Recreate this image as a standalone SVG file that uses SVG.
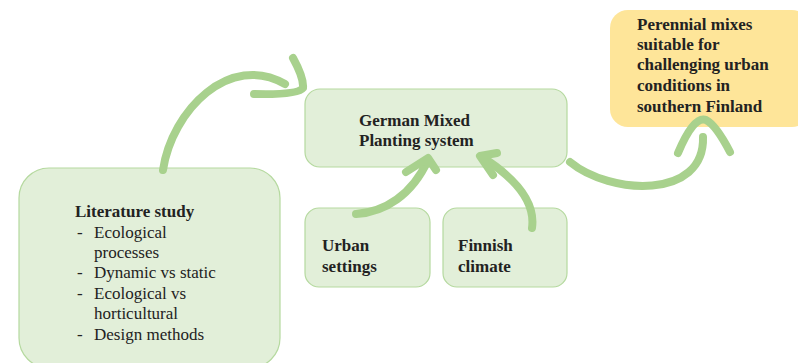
<svg xmlns="http://www.w3.org/2000/svg" width="798" height="363" viewBox="0 0 798 363">
<style>
.box{fill:#e2efd9;stroke:#b5d99f;stroke-width:1.2}
.goal{fill:#fee599;stroke:none}
.t{font-family:"Liberation Serif","Times New Roman",serif;font-size:17px;fill:#222}
.b{font-weight:bold}
.arr{fill:none;stroke:#a8d18d;stroke-width:8;stroke-linecap:round;stroke-linejoin:round}
</style>
<rect width="798" height="363" fill="#fff"/>
<g id="literature">
<rect class="box" x="19" y="168" width="261" height="200" rx="30"/>
<text class="t b" x="75" y="217">Literature study</text>
<text class="t"><tspan x="77" y="238">-</tspan><tspan x="94" y="238">Ecological</tspan><tspan x="94" y="258">processes</tspan><tspan x="77" y="278">-</tspan><tspan x="94" y="278">Dynamic vs static</tspan><tspan x="77" y="299">-</tspan><tspan x="94" y="299">Ecological vs</tspan><tspan x="94" y="319">horticultural</tspan><tspan x="77" y="340">-</tspan><tspan x="94" y="340">Design methods</tspan></text>
</g>
<g id="german">
<rect class="box" x="305" y="89" width="262" height="78" rx="15"/>
<text class="t b" x="359" y="126">German Mixed</text>
<text class="t b" x="359" y="146">Planting system</text>
</g>
<g id="urban">
<rect class="box" x="305" y="208" width="125" height="79" rx="14"/>
<text class="t b" x="322" y="251">Urban</text>
<text class="t b" x="322" y="272">settings</text>
</g>
<g id="finnish">
<rect class="box" x="443" y="208" width="124" height="79" rx="14"/>
<text class="t b" x="458" y="251">Finnish</text>
<text class="t b" x="458" y="272">climate</text>
</g>
<g id="goal">
<rect class="goal" x="610" y="10" width="200" height="117" rx="18"/>
<text class="t b"><tspan x="637" y="30">Perennial mixes</tspan><tspan x="637" y="50">suitable for</tspan><tspan x="637" y="70">challenging urban</tspan><tspan x="637" y="91">conditions in</tspan><tspan x="637" y="112">southern Finland</tspan></text>
</g>
<g id="connectors">
<path class="arr" d="M163,170 C172,110 230,52 285,84"/>
<path class="arr" d="M293,58 Q304,78 303,88 Q298,95 254,94"/>
<path class="arr" d="M356,214 C385,212 412,195 428,160"/>
<path class="arr" d="M406,172 L428,158 L436,170"/>
<path class="arr" d="M532,228 C536,200 512,176 482,157"/>
<path class="arr" d="M493,175 L480,156 L497,153"/>
<path class="arr" d="M570,162 C610,195 705,200 703,137"/>
<path class="arr" d="M678,153 Q694,115 706,120 Q716,125 730,152"/>
</g>
</svg>
